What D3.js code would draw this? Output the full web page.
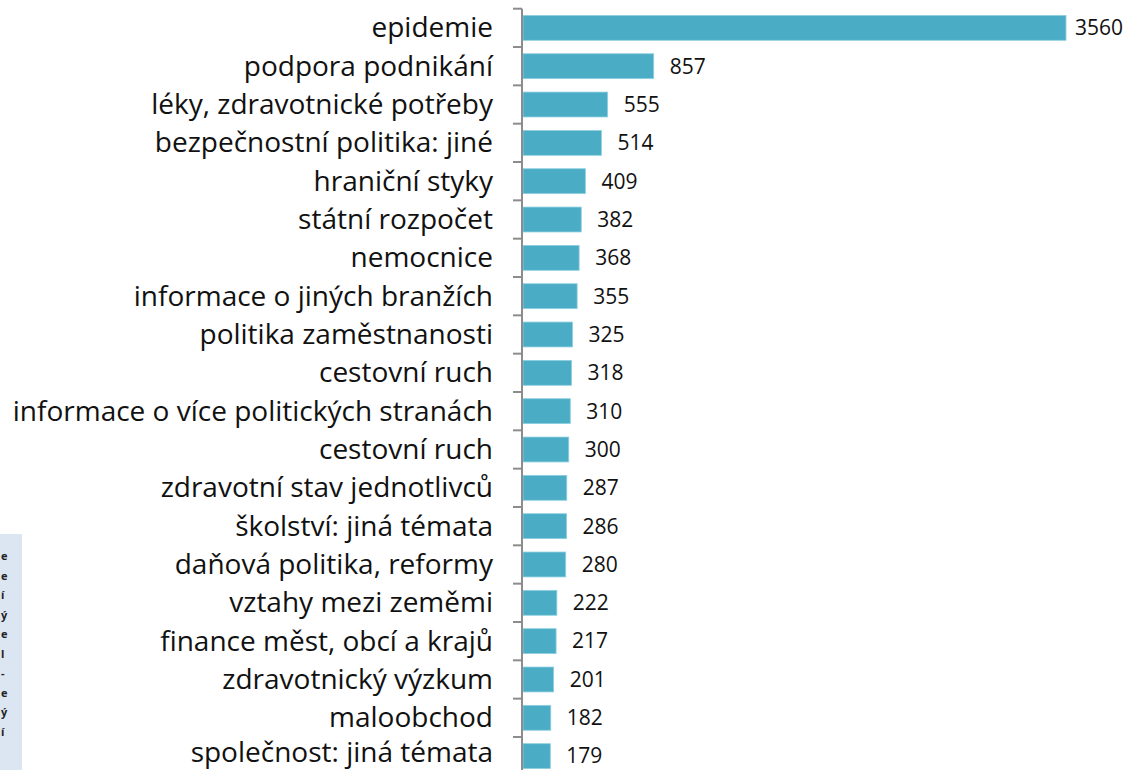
<!DOCTYPE html>
<html>
<head>
<meta charset="utf-8">
<script src="https://cdn.jsdelivr.net/npm/d3@7"></script>
<style>
  body { margin: 0; background: #fff; }
  svg { display: block; }
</style>
</head>
<body>
<div id="chart"></div>
<script>
var categories = [
    'epidemie', 'podpora podnikání', 'léky, zdravotnické potřeby',
    'bezpečnostní politika: jiné', 'hraniční styky', 'státní rozpočet',
    'nemocnice', 'informace o jiných branžích', 'politika zaměstnanosti',
    'cestovní ruch', 'informace o více politických stranách', 'cestovní ruch',
    'zdravotní stav jednotlivců', 'školství: jiná témata',
    'daňová politika, reformy', 'vztahy mezi zeměmi',
    'finance měst, obcí a krajů', 'zdravotnický výzkum', 'maloobchod',
    'společnost: jiná témata'
];
var counts = [3560, 857, 555, 514, 409, 382, 368, 355, 325, 318, 310, 300,
    287, 286, 280, 222, 217, 201, 182, 179];

// clipped side panel fragments
var sideGlyphs = ['e', 'e', 'í', 'ý', 'e', 'l', '-', 'e', 'ý', 'í'];

var width = 1128,
    height = 770;

var axis_x = 522,
    top_y = 8.7,
    step = 38.33;

var svg = d3.select('#chart')
    .append('svg')
    .attr('width', width)
    .attr('height', height);

// side panel
var side = svg.append('g');
side.append('rect')
    .attr('x', 0)
    .attr('y', 534)
    .attr('width', 22)
    .attr('height', height - 534)
    .attr('fill', '#dce6f2');
side.selectAll('text')
    .data(sideGlyphs)
    .enter()
    .append('text')
    .attr('x', 1)
    .attr('y', function (d, i) { return 560 + i * 19.5; })
    .attr('font-family', 'Open Sans, sans-serif')
    .attr('font-size', 11)
    .attr('font-weight', 'bold')
    .attr('fill', '#222')
    .text(function (d) { return d; });

var idx = d3.range(categories.length);

var y = d3.scaleBand()
    .domain(idx)
    .range([top_y, top_y + step * categories.length])
    .paddingInner(0.35)
    .paddingOuter(0.175);

var x = d3.scaleLinear()
    .domain([0, 3560])
    .range([axis_x + 1, 1066]);

// bars
svg.selectAll('.bar')
    .data(idx)
    .enter()
    .append('rect')
    .attr('class', 'bar')
    .attr('x', x(0))
    .attr('y', function (i) { return y(i); })
    .attr('width', function (i) { return x(counts[i]) - x(0); })
    .attr('height', y.bandwidth())
    .attr('fill', '#4bacc6')
    .attr('stroke', '#8fd0e0')
    .attr('stroke-width', 0.8);

// axis line + ticks between categories
var axisG = svg.append('g');
axisG.append('line')
    .attr('x1', axis_x).attr('x2', axis_x)
    .attr('y1', top_y).attr('y2', height)
    .attr('stroke', '#8c8c8c')
    .attr('stroke-width', 2);
axisG.selectAll('.tick')
    .data(d3.range(categories.length + 1))
    .enter()
    .append('line')
    .attr('x1', axis_x - 9).attr('x2', axis_x)
    .attr('y1', function (i) { return top_y + i * step; })
    .attr('y2', function (i) { return top_y + i * step; })
    .attr('stroke', '#8c8c8c')
    .attr('stroke-width', 2);

// category labels (last one is pushed up to stay inside the frame)
svg.selectAll('.cat')
    .data(idx)
    .enter()
    .append('text')
    .attr('class', 'cat')
    .attr('x', 493)
    .attr('y', function (i) {
        return Math.min(y(i) + y.bandwidth() / 2 + 9.5, height - 8);
    })
    .attr('text-anchor', 'end')
    .attr('font-family', 'Open Sans, sans-serif')
    .attr('font-size', 28)
    .attr('fill', '#111')
    .text(function (i) { return categories[i]; });

// value labels
svg.selectAll('.val')
    .data(idx)
    .enter()
    .append('text')
    .attr('class', 'val')
    .attr('y', function (i) { return y(i) + y.bandwidth() / 2; })
    .attr('dy', '0.35em')
    .attr('font-family', 'Open Sans, sans-serif')
    .attr('font-size', 21)
    .attr('fill', '#111')
    .text(function (i) { return counts[i]; })
    .attr('x', function (i) {
        var w = this.getComputedTextLength();
        return Math.min(x(counts[i]) + 16, width - 5 - w);
    });
</script>
</body>
</html>
